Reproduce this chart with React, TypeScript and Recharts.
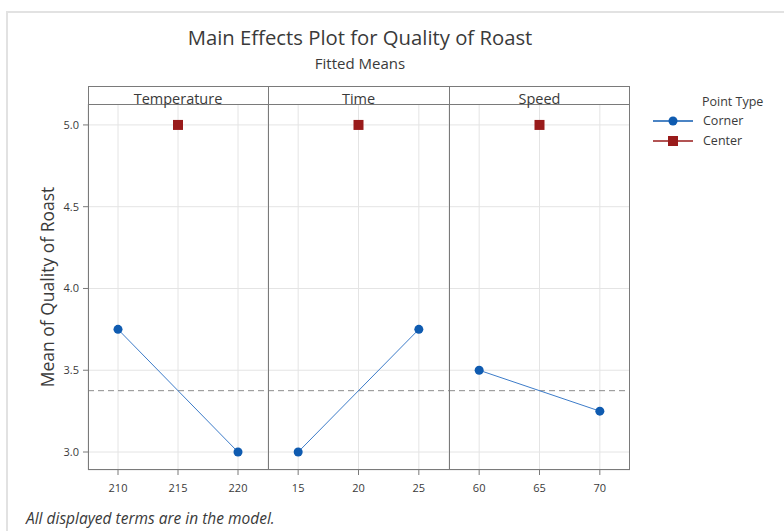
import { ComposedChart, Line, Scatter, XAxis, YAxis, CartesianGrid, ReferenceLine } from "recharts";

const panelNames = ["Temperature", "Time", "Speed"];
const tempTicks = [210, 215, 220];
const timeTicks = [15, 20, 25];
const speedTicks = [60, 65, 70];
const yTicks = [3.0, 3.5, 4.0, 4.5, 5.0];

const tempCorner = [{ x: 210, y: 3.75 }, { x: 220, y: 3.0 }];
const timeCorner = [{ x: 15, y: 3.0 }, { x: 25, y: 3.75 }];
const speedCorner = [{ x: 60, y: 3.5 }, { x: 70, y: 3.25 }];
const tempCenter = [{ x: 215, y: 5.0 }];
const timeCenter = [{ x: 20, y: 5.0 }];
const speedCenter = [{ x: 65, y: 5.0 }];
const overallMean = 3.375;

const FONT = '"Open Sans", "Noto Sans", sans-serif';
const BLUE = "#0f5bb0";
const RED = "#991b1b";
const TXT = "#3a3a3a";
const BORDER = "#7a7a7a";
const Y_DOMAIN = [2.89, 5.128];

const Square = (props: any) => {
  const { cx, cy } = props;
  if (cx == null || cy == null) return null;
  return <rect x={cx - 5} y={cy - 5} width={10} height={10} fill={RED} />;
};

type PanelProps = {
  left: number;
  width: number;
  ticks: number[];
  corner: { x: number; y: number }[];
  center: { x: number; y: number }[];
  showY: boolean;
};

function Panel({ left, width, ticks, corner, center, showY }: PanelProps) {
  const step = ticks[1] - ticks[0];
  const domain = [ticks[0] - step / 2, ticks[ticks.length - 1] + step / 2];
  return (
    <div style={{ position: "absolute", left, top: 104 }}>
      <ComposedChart width={width} height={400} margin={{ top: 0, right: 0, bottom: 0, left: 0 }}>
        <CartesianGrid stroke="#e4e4e4" />
        <XAxis
          type="number"
          dataKey="x"
          domain={domain}
          ticks={ticks}
          allowDataOverflow
          height={34}
          axisLine={false}
          tickLine={{ stroke: BORDER }}
          tickSize={5}
          tickMargin={9}
          tick={{ fontSize: 11, fill: TXT, fontFamily: FONT }}
        />
        <YAxis
          type="number"
          dataKey="y"
          domain={Y_DOMAIN}
          ticks={yTicks}
          allowDataOverflow
          hide={!showY}
          width={88}
          axisLine={false}
          tickLine={{ stroke: BORDER }}
          tickSize={5}
          tickMargin={4}
          tickFormatter={(v: number) => v.toFixed(1)}
          tick={{ fontSize: 11, fill: TXT, fontFamily: FONT }}
          label={{
            value: "Mean of Quality of Roast",
            angle: -90,
            position: "insideLeft",
            offset: 48,
            style: { textAnchor: "middle", fontSize: 17.5, fill: TXT, fontFamily: FONT },
          }}
        />
        <ReferenceLine y={overallMean} stroke="#8c8c8c" strokeDasharray="6 4" strokeWidth={1} />
        <Line
          data={corner}
          dataKey="y"
          stroke="#3d7cc9"
          strokeWidth={1}
          dot={{ r: 4.5, fill: BLUE, stroke: BLUE, strokeWidth: 0 }}
          activeDot={false}
          isAnimationActive={false}
        />
        <Scatter data={center} dataKey="y" shape={<Square />} isAnimationActive={false} />
      </ComposedChart>
    </div>
  );
}

export default function App() {
  const panelEdges = [88, 268, 449, 630];
  return (
    <div style={{ position: "relative", width: 784, height: 531, background: "#fff", fontFamily: FONT, overflow: "hidden", color: TXT }}>
      <style>{`body{margin:0}`}</style>
      <div style={{ position: "absolute", left: 6, top: 11, width: 800, height: 540, borderLeft: "2px solid #e2e2e2", borderTop: "2px solid #e2e2e2" }} />
      <div style={{ position: "absolute", left: 0, width: 720, top: 24, textAlign: "center", fontSize: 20.3, lineHeight: "26px" }}>
        Main Effects Plot for Quality of Roast
      </div>
      <div style={{ position: "absolute", left: 0, width: 720, top: 53, textAlign: "center", fontSize: 15, lineHeight: "20px" }}>
        Fitted Means
      </div>

      <Panel left={0} width={268} ticks={tempTicks} corner={tempCorner} center={tempCenter} showY />
      <Panel left={268} width={181} ticks={timeTicks} corner={timeCorner} center={timeCenter} showY={false} />
      <Panel left={449} width={181} ticks={speedTicks} corner={speedCorner} center={speedCenter} showY={false} />

      {/* frame, strip headers and dividers */}
      <div style={{ position: "absolute", left: 88, top: 86, width: 542, height: 384, boxSizing: "border-box", border: `1px solid ${BORDER}` }} />
      <div style={{ position: "absolute", left: 88, top: 104, width: 542, height: 1, background: BORDER }} />
      {panelEdges.slice(1, 3).map((x) => (
        <div key={x} style={{ position: "absolute", left: x, top: 86, width: 1, height: 384, background: BORDER }} />
      ))}
      {panelNames.map((name, i) => (
        <div
          key={name}
          style={{
            position: "absolute",
            left: panelEdges[i],
            width: panelEdges[i + 1] - panelEdges[i],
            top: 89,
            textAlign: "center",
            fontSize: 14.5,
            lineHeight: "20px",
          }}
        >
          {name}
        </div>
      ))}

      {/* legend */}
      <div style={{ position: "absolute", left: 702, top: 94, fontSize: 12.5, lineHeight: "16px" }}>Point Type</div>
      <svg style={{ position: "absolute", left: 650, top: 112 }} width={50} height={40}>
        <line x1={3} x2={43} y1={9} y2={9} stroke={BLUE} strokeWidth={1.5} />
        <circle cx={23} cy={9} r={4.5} fill={BLUE} />
        <line x1={3} x2={43} y1={29} y2={29} stroke={RED} strokeWidth={1.5} />
        <rect x={18} y={24} width={10} height={10} fill={RED} />
      </svg>
      <div style={{ position: "absolute", left: 703, top: 113, fontSize: 12.5, lineHeight: "16px" }}>Corner</div>
      <div style={{ position: "absolute", left: 703, top: 133, fontSize: 12.5, lineHeight: "16px" }}>Center</div>

      <div style={{ position: "absolute", left: 26, top: 508, fontSize: 15.5, fontStyle: "italic", lineHeight: "20px" }}>
        All displayed terms are in the model.
      </div>
    </div>
  );
}
